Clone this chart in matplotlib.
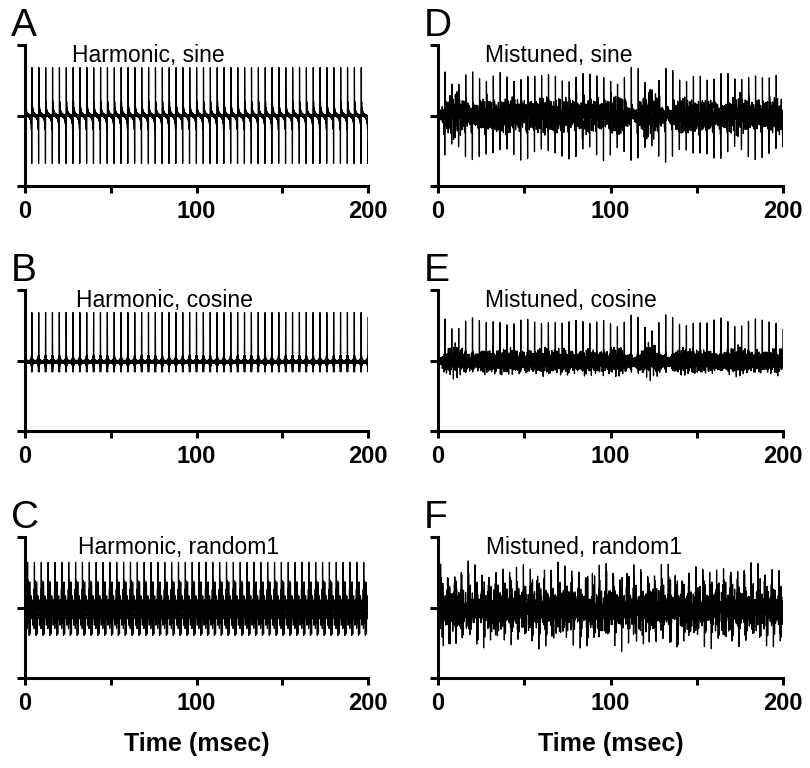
import numpy as np
import matplotlib
matplotlib.use("Agg")
import matplotlib.pyplot as plt

plt.rcParams['font.family'] = ['Liberation Sans', 'DejaVu Sans']

# stimulus parameters (period ~4 ms -> F0 = 250 Hz)
F0 = 250.0
DURATION_MS = 200.0
FS = 40000
harmonics = np.arange(1, 21)

# "random1" starting phases, degrees, one per harmonic
random1_phases = [212, 47, 318, 96, 155, 271, 13, 189, 240, 77,
                  334, 120, 58, 295, 166, 5, 228, 143, 301, 84]

# frequency shift (Hz) applied to each harmonic in the mistuned complexes
mistune_hz = [0, 0, 0, 0, 37, 0, 0, 0, -44, 0,
              0, 0, 53, 0, 0, 0, -61, 0, 0, 0]

panel_letters = ["A", "B", "C", "D", "E", "F"]
panel_titles = ["Harmonic, sine", "Harmonic, cosine", "Harmonic, random1",
                "Mistuned, sine", "Mistuned, cosine", "Mistuned, random1"]
phase_types = ["sine", "cosine", "random1", "sine", "cosine", "random1"]
mistuned = [False, False, False, True, True, True]
# largest excursion of each trace as a fraction of the half axis height
peak_level = [0.68, 0.68, 0.64, 0.70, 0.68, 0.66]

xticks = [0, 50, 100, 150, 200]
xticklabels = ["0", "", "100", "", "200"]


def start_phase(kind):
    if kind == "sine":
        return np.full(len(harmonics), -np.pi / 2)
    if kind == "cosine":
        return np.zeros(len(harmonics))
    return np.deg2rad(random1_phases)


def waveform(kind, shift):
    t = np.arange(int(FS * DURATION_MS / 1000)) / FS
    ph = start_phase(kind)
    df = np.array(mistune_hz) if shift else np.zeros(len(harmonics))
    y = np.zeros_like(t)
    for h, p, d in zip(harmonics, ph, df):
        y += np.cos(2 * np.pi * (h * F0 + d) * t + p)
    return t * 1000, y


fig = plt.figure(figsize=(8.1, 7.68), dpi=100)

W, H = 810.0, 768.0
col_left = [25, 438]
col_width = [343, 345]
row_top = [45, 290, 537]
ax_h = 141
title_x = [0.137, 0.149, 0.155, 0.136, 0.136, 0.14]

for i in range(6):
    col, row = divmod(i, 3)
    left = col_left[col] / W
    bottom = 1 - (row_top[row] + ax_h) / H
    ax = fig.add_axes([left, bottom, col_width[col] / W, ax_h / H])

    t, y = waveform(phase_types[i], mistuned[i])
    y = y / np.abs(y).max() * peak_level[i]
    ax.plot(t, y, color="black", lw=0.9)

    ax.set_xlim(0, 200)
    ax.set_ylim(-1, 1)
    ax.set_xticks(xticks)
    ax.set_xticklabels(xticklabels, fontsize=17, fontweight="bold")
    ax.set_yticks([-1, 0, 1])
    ax.set_yticklabels([])
    for s in ["top", "right"]:
        ax.spines[s].set_visible(False)
    for s in ["left", "bottom"]:
        ax.spines[s].set_linewidth(2.2)
    ax.tick_params(width=2.2, length=5, direction="out", pad=5)
    ax.tick_params(axis="y", length=6)

    ax.text(title_x[i], 0.88, panel_titles[i], transform=ax.transAxes,
            fontsize=16.5, va="baseline", ha="left")
    fig.text((col_left[col] - 14) / W, 1 - (row_top[row] - 9) / H,
             panel_letters[i], fontsize=28, va="baseline", ha="left")

    if row == 2:
        ax.set_xlabel("Time (msec)", fontsize=18, fontweight="bold",
                      labelpad=12)

fig.savefig("out.png", dpi=100)
